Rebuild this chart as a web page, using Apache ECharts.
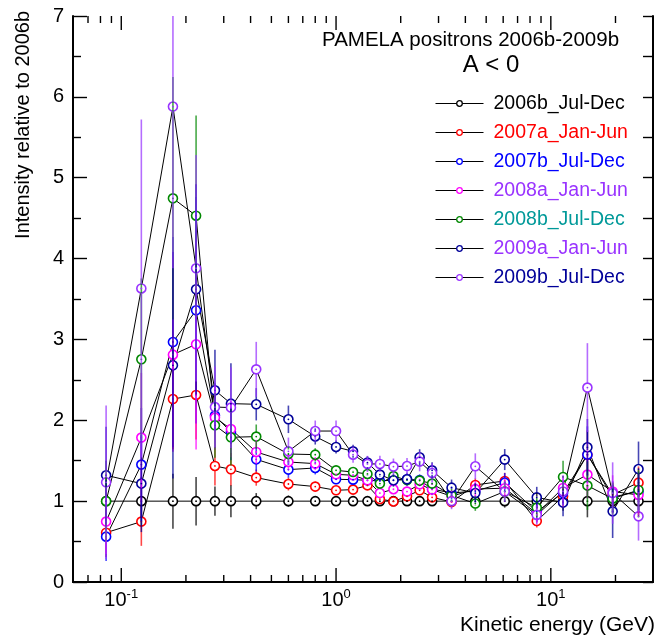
<!DOCTYPE html>
<html>
<head>
<meta charset="utf-8">
<script src="https://cdn.jsdelivr.net/npm/echarts@6/dist/echarts.min.js"></script>
<style>
html, body { margin: 0; padding: 0; background: #fff; }
#chart { width: 668px; height: 638px; }
</style>
</head>
<body>
<div id="chart"></div>
<script>
// Kinetic energy bin centres (GeV)
const energy = [0.085, 0.124, 0.174, 0.223, 0.273, 0.324, 0.425, 0.60, 0.80, 1.0, 1.2, 1.4, 1.6, 1.85, 2.14, 2.45, 2.8, 3.45, 4.45, 6.1, 8.6, 11.4, 14.8, 19.4, 25.6];

// Positron intensity relative to 2006b, per period
const ratio2006b = [1, 1, 1, 1, 1, 1, 1, 1, 1, 1, 1, 1, 1, 1, 1, 1, 1, 1, 1, 1, 1, 1, 1, 1, 1];
const ratio2007a = [0.61, 0.747, 2.263, 2.313, 1.435, 1.394, 1.291, 1.212, 1.18, 1.134, 1.143, 1.195, 1.026, 0.996, 1.06, 1.134, 1.047, 0.99, 1.2, 1.25, 0.754, 1.06, 1.575, 1.08, 1.229];
const ratio2007b = [0.561, 1.452, 2.968, 3.36, 2.058, 1.855, 1.517, 1.39, 1.41, 1.27, 1.266, 1.258, 1.25, 1.26, 1.27, 1.26, 1.15, 1.1, 1.125, 1.229, 0.87, 1.10, 1.575, 1.05, 1.12];
const ratio2008a = [0.747, 1.786, 2.812, 2.94, 2.033, 1.892, 1.608, 1.484, 1.464, 1.332, 1.32, 1.258, 1.10, 1.147, 1.118, 1.208, 1.143, 1.06, 1.15, 1.16, 0.846, 1.163, 1.328, 1.12, 1.076];
const ratio2008b = [1.0, 2.754, 4.745, 4.53, 1.938, 1.79, 1.798, 1.583, 1.575, 1.381, 1.36, 1.336, 1.217, 1.31, 1.26, 1.254, 1.217, 1.072, 0.97, 1.12, 0.92, 1.299, 1.192, 1.03, 1.138];
const ratio2009a = [1.32, 1.217, 2.68, 3.62, 2.371, 2.206, 2.198, 2.012, 1.80, 1.67, 1.616, 1.477, 1.328, 1.258, 1.27, 1.542, 1.381, 1.167, 1.10, 1.514, 1.047, 0.982, 1.666, 0.874, 1.397];
const ratio2009b = [1.233, 3.63, 5.88, 3.88, 2.164, 2.157, 2.63, 1.616, 1.867, 1.867, 1.575, 1.46, 1.46, 1.427, 1.434, 1.489, 1.348, 1.0, 1.431, 1.118, 0.83, 1.12, 2.404, 1.10, 0.812];

// Symmetric uncertainties on the ratios
const err2006b = [0.3, 0.3, 0.34, 0.3, 0.18, 0.2, 0.1, 0.07, 0.05, 0.04, 0.04, 0.04, 0.04, 0.04, 0.04, 0.05, 0.05, 0.06, 0.06, 0.08, 0.1, 0.12, 0.2, 0.15, 0.2];
const err2007a = [0.3, 0.3, 0.62, 0.55, 0.24, 0.2, 0.1, 0.08, 0.06, 0.05, 0.05, 0.05, 0.05, 0.05, 0.05, 0.06, 0.06, 0.07, 0.08, 0.1, 0.08, 0.12, 0.3, 0.15, 0.2];
const err2007b = [0.3, 0.7, 1.3, 1.4, 0.4, 0.35, 0.15, 0.1, 0.08, 0.06, 0.06, 0.06, 0.06, 0.06, 0.06, 0.07, 0.07, 0.08, 0.1, 0.12, 0.12, 0.15, 0.35, 0.2, 0.25];
const err2008a = [0.4, 0.8, 1.2, 1.3, 0.4, 0.35, 0.15, 0.1, 0.08, 0.06, 0.06, 0.06, 0.06, 0.06, 0.06, 0.07, 0.07, 0.08, 0.1, 0.12, 0.12, 0.15, 0.3, 0.2, 0.25];
const err2008b = [0.5, 1.0, 1.5, 1.24, 0.4, 0.35, 0.15, 0.1, 0.08, 0.06, 0.06, 0.06, 0.06, 0.06, 0.06, 0.07, 0.07, 0.08, 0.09, 0.12, 0.12, 0.2, 0.3, 0.2, 0.25];
const err2009a = [0.6, 0.6, 1.4, 1.3, 0.5, 0.5, 0.2, 0.17, 0.1, 0.08, 0.08, 0.08, 0.08, 0.08, 0.08, 0.1, 0.1, 0.1, 0.12, 0.13, 0.13, 0.17, 0.35, 0.33, 0.34];
const err2009b = [0.95, 2.09, 2.0, 1.4, 0.5, 0.5, 0.34, 0.17, 0.13, 0.13, 0.1, 0.1, 0.1, 0.1, 0.1, 0.12, 0.12, 0.1, 0.16, 0.13, 0.12, 0.2, 0.55, 0.38, 0.3];

const periodNames = ['2006b_Jul-Dec', '2007a_Jan-Jun', '2007b_Jul-Dec', '2008a_Jan-Jun', '2008b_Jul-Dec', '2009a_Jan-Jun', '2009b_Jul-Dec'];
const periodRatios = [ratio2006b, ratio2007a, ratio2007b, ratio2008a, ratio2008b, ratio2009a, ratio2009b];
const periodErrors = [err2006b, err2007a, err2007b, err2008a, err2008b, err2009a, err2009b];
const markerColors = ['#000000', '#ff0000', '#0000ff', '#ff00ff', '#008800', '#000099', '#9933ff'];
const labelColors = ['#000000', '#ff0000', '#0000ff', '#9933ff', '#009999', '#9933ff', '#000099'];

// Axis ticks on the logarithmic energy axis
const xMajorTicks = [0.1, 1, 10];
const xMinorTicks = [0.07, 0.08, 0.09, 0.2, 0.3, 0.4, 0.5, 0.6, 0.7, 0.8, 0.9, 2, 3, 4, 5, 6, 7, 8, 9, 20];

const FONT = 'Liberation Sans, Arial, Helvetica, sans-serif';
const MARK_R = 4.5;

function errorBarRenderer(color) {
  return function (params, api) {
    const x = api.value(0), y = api.value(1), e = api.value(2);
    const c = api.coord([x, y]);
    const hi = api.coord([x, y + e]);
    const lo = api.coord([x, y - e]);
    const cs = params.coordSys;
    const yTop = Math.max(hi[1], cs.y);
    const yBot = Math.min(lo[1], cs.y + cs.height);
    const children = [];
    const st = { stroke: color, lineWidth: 1.6, opacity: 0.72 };
    if (c[1] - MARK_R > yTop) {
      children.push({ type: 'line', shape: { x1: c[0], y1: yTop, x2: c[0], y2: c[1] - MARK_R }, style: st });
    }
    if (yBot > c[1] + MARK_R) {
      children.push({ type: 'line', shape: { x1: c[0], y1: c[1] + MARK_R, x2: c[0], y2: yBot }, style: st });
    }
    children.push({ type: 'circle', shape: { cx: c[0], cy: c[1], r: 0.9 }, style: { fill: color } });
    return { type: 'group', children: children };
  };
}

function tickRenderer(len) {
  return function (params, api) {
    const p = api.coord([api.value(0), 0]);
    const cs = params.coordSys;
    const st = { stroke: '#000', lineWidth: 1.4 };
    return {
      type: 'group',
      children: [
        { type: 'line', shape: { x1: p[0], y1: cs.y + cs.height, x2: p[0], y2: cs.y + cs.height - len }, style: st },
        { type: 'line', shape: { x1: p[0], y1: cs.y, x2: p[0], y2: cs.y + len }, style: st }
      ]
    };
  };
}

const series = [];
periodNames.forEach(function (name, i) {
  series.push({
    name: name,
    type: 'line',
    xAxisIndex: 0,
    yAxisIndex: 0,
    data: energy.map(function (e, k) { return [e, periodRatios[i][k]]; }),
    symbol: 'circle',
    symbolSize: MARK_R * 2,
    lineStyle: { color: '#000', width: 1 },
    itemStyle: { color: '#ffffff', borderColor: markerColors[i], borderWidth: 1.6 },
    emphasis: { disabled: true },
    animation: false,
    z: 2
  });
});
periodNames.forEach(function (name, i) {
  series.push({
    name: name + ' errors',
    type: 'custom',
    xAxisIndex: 0,
    yAxisIndex: 0,
    data: energy.map(function (e, k) { return [e, periodRatios[i][k], periodErrors[i][k]]; }),
    renderItem: errorBarRenderer(markerColors[i]),
    silent: true,
    animation: false,
    z: 3
  });
});
series.push({
  type: 'custom', xAxisIndex: 0, yAxisIndex: 0, silent: true, animation: false, z: 4,
  data: xMajorTicks.map(function (v) { return [v, 0]; }),
  renderItem: tickRenderer(14)
});
series.push({
  type: 'custom', xAxisIndex: 0, yAxisIndex: 0, silent: true, animation: false, z: 4,
  data: xMinorTicks.map(function (v) { return [v, 0]; }),
  renderItem: tickRenderer(7)
});

const frameLine = { show: true, lineStyle: { color: '#000', width: 2 } };

const option = {
  animation: false,
  backgroundColor: '#ffffff',
  textStyle: { fontFamily: FONT },
  grid: { left: 73, right: 15, top: 16, bottom: 56, containLabel: false },
  xAxis: [
    {
      type: 'log', logBase: 10, min: 0.0596, max: 29.9, position: 'bottom',
      axisLine: frameLine,
      axisTick: { show: false },
      splitLine: { show: false },
      axisLabel: {
        show: true, margin: 6, color: '#000', fontFamily: FONT,
        showMinLabel: false, showMaxLabel: false,
        formatter: function (v) {
          const e = Math.log10(v);
          const r = Math.round(e);
          if (Math.abs(e - r) > 1e-6) return '';
          return '{b|10}{s|' + r + '}';
        },
        rich: {
          b: { fontSize: 20, fontFamily: FONT, color: '#000' },
          s: { fontSize: 13, fontFamily: FONT, color: '#000', padding: [0, 0, 11, 0] }
        }
      }
    },
    {
      type: 'log', logBase: 10, min: 0.0596, max: 29.9, position: 'top',
      axisLine: frameLine, axisTick: { show: false }, axisLabel: { show: false }, splitLine: { show: false }
    }
  ],
  yAxis: [
    {
      type: 'value', min: 0, max: 7, interval: 1, position: 'left',
      axisLine: frameLine,
      axisTick: { show: true, inside: true, length: 14, lineStyle: { color: '#000', width: 1.4 } },
      minorTick: { show: true, splitNumber: 2, length: 8, lineStyle: { color: '#000', width: 1.4 } },
      axisLabel: { color: '#000', fontSize: 20, fontFamily: FONT, margin: 9 },
      splitLine: { show: false }
    },
    {
      type: 'value', min: 0, max: 7, interval: 0.5, position: 'right',
      axisLine: frameLine,
      axisTick: { show: true, inside: true, length: 10, lineStyle: { color: '#000', width: 1.4 } },
      axisLabel: { show: false },
      splitLine: { show: false }
    }
  ],
  legend: {
    orient: 'vertical',
    left: 435,
    top: 89,
    padding: 0,
    itemWidth: 48,
    itemHeight: 7,
    itemGap: 0,
    selectedMode: false,
    lineStyle: { color: '#000', width: 1 },
    itemStyle: { borderWidth: 1.3 },
    data: periodNames.map(function (n, i) {
      return { name: n, textStyle: { color: labelColors[i] } };
    }),
    textStyle: { fontSize: 19.5, fontFamily: FONT, lineHeight: 29, padding: [0, 0, 0, 5] }
  },
  graphic: [
    {
      type: 'text', x: 322, y: 40,
      style: { text: 'PAMELA positrons 2006b-2009b', font: '20.5px ' + FONT, fill: '#000', align: 'left', verticalAlign: 'middle', textAlign: 'left', textVerticalAlign: 'middle' }
    },
    {
      type: 'text', x: 491, y: 65,
      style: { text: 'A < 0', font: '24px ' + FONT, fill: '#000', align: 'center', verticalAlign: 'middle', textAlign: 'center', textVerticalAlign: 'middle' }
    },
    {
      type: 'text', x: 655, y: 625,
      style: { text: 'Kinetic energy (GeV)', font: '21px ' + FONT, fill: '#000', align: 'right', verticalAlign: 'middle', textAlign: 'right', textVerticalAlign: 'middle' }
    },
    {
      type: 'text', x: 23, y: 11, rotation: Math.PI / 2,
      style: { text: 'Intensity relative to 2006b', font: '20px ' + FONT, fill: '#000', align: 'right', verticalAlign: 'middle', textAlign: 'right', textVerticalAlign: 'middle' }
    }
  ],
  series: series
};

const chart = echarts.init(document.getElementById('chart'), null, { renderer: 'canvas' });
chart.setOption(option);
</script>
</body>
</html>
